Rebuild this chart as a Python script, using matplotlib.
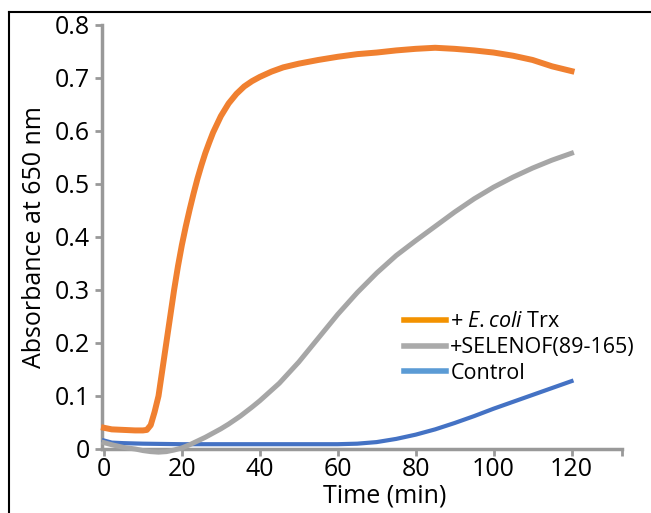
import matplotlib
matplotlib.use('Agg')
import matplotlib.pyplot as plt
from matplotlib.lines import Line2D

plt.rcParams['font.family'] = ['Open Sans', 'DejaVu Sans']
plt.rcParams['mathtext.fontset'] = 'custom'
plt.rcParams['mathtext.it'] = 'Open Sans:italic'
plt.rcParams['mathtext.rm'] = 'Open Sans'

# values
trx_t = [0, 2, 5, 8, 10, 11, 12, 13, 14, 15, 16, 17, 18, 19, 20, 21, 22, 23, 24, 25, 26, 27, 28,
         30, 32, 34, 36, 38, 40, 43, 46, 50, 55, 60, 65, 70, 75, 80, 85, 90, 95, 100, 105, 110,
         115, 120]
trx_a = [0.040, 0.037, 0.036, 0.035, 0.035, 0.036, 0.045, 0.07, 0.10, 0.15, 0.20, 0.25, 0.30,
         0.345, 0.385, 0.42, 0.452, 0.482, 0.51, 0.535, 0.558, 0.578, 0.597, 0.628, 0.652, 0.67,
         0.684, 0.694, 0.702, 0.712, 0.72, 0.727, 0.734, 0.74, 0.745, 0.748, 0.752, 0.755, 0.757,
         0.755, 0.752, 0.748, 0.742, 0.734, 0.722, 0.713]

sel_t = [0, 2, 5, 8, 10, 12, 14, 16, 18, 20, 22, 24, 26, 28, 30, 32, 35, 38, 40, 45, 50, 55, 60,
         65, 70, 75, 80, 85, 90, 95, 100, 105, 110, 115, 120]
sel_a = [0.012, 0.008, 0.003, 0.0, -0.003, -0.005, -0.006, -0.005, -0.002, 0.002, 0.008, 0.015,
         0.022, 0.03, 0.038, 0.047, 0.062, 0.079, 0.091, 0.124, 0.164, 0.209, 0.254, 0.295, 0.332,
         0.365, 0.393, 0.42, 0.447, 0.472, 0.494, 0.513, 0.53, 0.545, 0.558]

ctl_t = [0, 2, 5, 10, 20, 30, 40, 50, 60, 65, 70, 75, 80, 85, 90, 95, 100, 105, 110, 115, 120]
ctl_a = [0.016, 0.012, 0.011, 0.010, 0.009, 0.009, 0.009, 0.009, 0.009, 0.010, 0.013, 0.019,
         0.027, 0.037, 0.049, 0.062, 0.076, 0.089, 0.102, 0.115, 0.128]

labels = ['+ $\\it{E.coli}$ Trx', '+SELENOF(89-165)', 'Control']
x_ticks = [0, 20, 40, 60, 80, 100, 120]
y_ticks = [0, 0.1, 0.2, 0.3, 0.4, 0.5, 0.6, 0.7, 0.8]

fig = plt.figure(figsize=(6.51, 5.13), dpi=100)

# frame lines of the cropped panel
fig.add_artist(Line2D([9 / 651, 9 / 651], [0, 1 - 12 / 513], color='black', lw=1.5))
fig.add_artist(Line2D([9 / 651, 1], [1 - 12 / 513, 1 - 12 / 513], color='black', lw=1.5))

ax = fig.add_axes([0.1567, 0.1248, 0.799, 0.8265])

ax.plot(ctl_t, ctl_a, color='#4472c4', lw=3, clip_on=False, zorder=3)
ax.plot(sel_t, sel_a, color='#a6a6a6', lw=3.6, clip_on=False, zorder=4)
ax.plot(trx_t, trx_a, color='#f08030', lw=4.3, clip_on=False, zorder=5)

ax.set_xlim(-0.5, 133)
ax.set_ylim(0, 0.8)
ax.set_xticks(x_ticks + [133])
ax.set_xticklabels([str(v) for v in x_ticks] + [''])
ax.set_yticks(y_ticks)
ax.set_yticklabels(['0'] + ['%.1f' % v for v in y_ticks[1:]])

for s in ['top', 'right']:
    ax.spines[s].set_visible(False)
for s in ['left', 'bottom']:
    ax.spines[s].set_color('#999999')
    ax.spines[s].set_linewidth(2.5)
ax.tick_params(axis='both', colors='#999999', width=2, length=5, labelsize=18, labelcolor='black')
ax.tick_params(axis='y', pad=4)
ax.tick_params(axis='x', pad=1)

ax.set_xlabel('Time (min)', fontsize=18, va='top')
ax.xaxis.set_label_coords(0.544, -0.082)
ax.set_ylabel('Absorbance at 650 nm', fontsize=18, labelpad=5)

handles = [Line2D([], [], color='#f39200', lw=4),
           Line2D([], [], color='#aaaaaa', lw=4),
           Line2D([], [], color='#5b9bd5', lw=4)]
ax.legend(handles, labels, loc='upper left', bbox_to_anchor=(0.56, 0.35), frameon=False,
          fontsize=15.5, handlelength=1.95, handletextpad=0.2, labelspacing=0.22, borderpad=0)

fig.savefig('out.png', dpi=100)
